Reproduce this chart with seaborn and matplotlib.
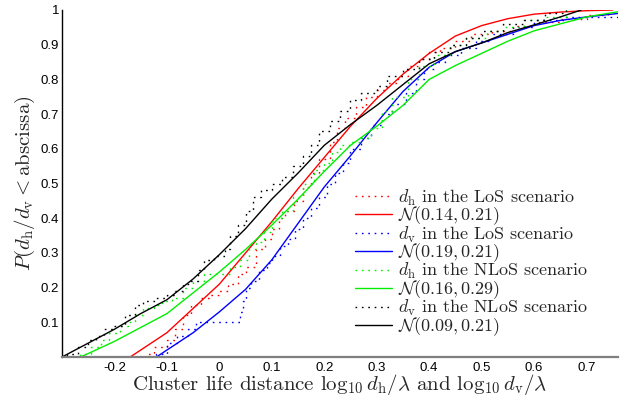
import numpy as np
import matplotlib
matplotlib.use("Agg")
import matplotlib.pyplot as plt
import seaborn as sns

dh_los_x = [-0.3, -0.14, -0.125, -0.10, -0.085, -0.07, -0.055, -0.035, -0.02, 0.0, 0.017, 0.035, 0.05,
            0.07, 0.087, 0.10, 0.113, 0.125, 0.142, 0.16, 0.175, 0.19, 0.21, 0.225, 0.24, 0.26, 0.28,
            0.30, 0.32, 0.34, 0.36, 0.38, 0.40, 0.42, 0.45, 0.48, 0.52, 0.56, 0.60, 0.65, 0.70, 0.74]
dh_los_y = [0.0, 0.01, 0.03, 0.05, 0.08, 0.12, 0.15, 0.17, 0.18, 0.19, 0.21, 0.24, 0.26,
            0.31, 0.34, 0.37, 0.40, 0.42, 0.45, 0.49, 0.53, 0.57, 0.62, 0.66, 0.69, 0.72, 0.75,
            0.77, 0.79, 0.81, 0.84, 0.86, 0.88, 0.89, 0.91, 0.93, 0.94, 0.955, 0.965, 0.975, 0.985, 1.0]

dv_los_x = [-0.3, -0.12, -0.10, -0.08, -0.06, -0.045, 0.04, 0.045, 0.05, 0.06, 0.075, 0.09, 0.10, 0.115,
            0.13, 0.145, 0.16, 0.175, 0.19, 0.205, 0.22, 0.235, 0.25, 0.27, 0.29, 0.31, 0.33, 0.355,
            0.375, 0.39, 0.41, 0.43, 0.46, 0.49, 0.52, 0.56, 0.60, 0.66, 0.76]
dv_los_y = [0.0, 0.01, 0.04, 0.06, 0.08, 0.10, 0.13, 0.16, 0.20, 0.22, 0.25, 0.27, 0.29, 0.32,
            0.34, 0.37, 0.40, 0.43, 0.46, 0.50, 0.53, 0.56, 0.60, 0.63, 0.67, 0.70, 0.73, 0.76,
            0.80, 0.83, 0.85, 0.87, 0.89, 0.91, 0.93, 0.95, 0.97, 0.98, 0.985]

dh_nlos_x = [-0.3, -0.265, -0.245, -0.225, -0.21, -0.19, -0.175, -0.16, -0.145, -0.125, -0.11, -0.09,
             -0.07, -0.05, -0.03, 0.02, 0.04, 0.056, 0.07, 0.085, 0.10, 0.12, 0.14, 0.16, 0.18, 0.20,
             0.215, 0.23, 0.25, 0.27, 0.29, 0.31, 0.33, 0.36, 0.38, 0.41, 0.44, 0.47, 0.51, 0.54,
             0.58, 0.62, 0.66]
dh_nlos_y = [0.0, 0.01, 0.03, 0.05, 0.07, 0.09, 0.10, 0.12, 0.14, 0.15, 0.16, 0.17,
             0.20, 0.22, 0.24, 0.26, 0.28, 0.31, 0.33, 0.36, 0.40, 0.42, 0.46, 0.50, 0.54, 0.56,
             0.59, 0.61, 0.62, 0.63, 0.66, 0.71, 0.75, 0.80, 0.84, 0.87, 0.90, 0.92, 0.94, 0.95,
             0.97, 0.98, 1.0]

dv_nlos_x = [-0.3, -0.29, -0.27, -0.25, -0.235, -0.22, -0.20, -0.18, -0.16, -0.145, -0.12, -0.10,
             -0.085, -0.07, -0.055, -0.04, -0.03, -0.01, 0.01, 0.02, 0.035, 0.05, 0.065, 0.08, 0.10,
             0.12, 0.14, 0.16, 0.175, 0.19, 0.21, 0.23, 0.25, 0.27, 0.30, 0.32, 0.35, 0.38, 0.41,
             0.44, 0.47, 0.50, 0.54, 0.58, 0.62, 0.66]
dv_nlos_y = [0.0, 0.01, 0.03, 0.05, 0.06, 0.08, 0.09, 0.12, 0.15, 0.16, 0.17, 0.18,
             0.19, 0.21, 0.22, 0.25, 0.28, 0.29, 0.31, 0.35, 0.38, 0.42, 0.46, 0.48, 0.50,
             0.52, 0.55, 0.58, 0.61, 0.65, 0.68, 0.71, 0.74, 0.76, 0.78, 0.81, 0.83, 0.86, 0.88,
             0.90, 0.92, 0.94, 0.96, 0.97, 0.99, 1.0]

# fitted normal CDFs
fit_red_x = [-0.17, -0.15, -0.1, -0.05, 0, 0.05, 0.1, 0.15, 0.2, 0.25, 0.3, 0.35, 0.4, 0.45, 0.5,
             0.55, 0.6, 0.65, 0.7, 0.75]
fit_red_y = [0.0, 0.02, 0.07, 0.14, 0.21, 0.30, 0.39, 0.485, 0.575, 0.665, 0.745, 0.815, 0.875,
             0.925, 0.955, 0.975, 0.988, 0.994, 0.998, 1.0]

fit_blue_x = [-0.12, -0.1, -0.05, 0, 0.05, 0.1, 0.15, 0.2, 0.25, 0.3, 0.35, 0.4, 0.45, 0.5, 0.55,
              0.6, 0.65, 0.7, 0.76]
fit_blue_y = [0.0, 0.02, 0.07, 0.13, 0.195, 0.28, 0.385, 0.49, 0.58, 0.675, 0.765, 0.835, 0.88,
              0.905, 0.93, 0.955, 0.97, 0.98, 0.99]

fit_green_x = [-0.265, -0.25, -0.2, -0.15, -0.1, -0.05, 0, 0.05, 0.1, 0.15, 0.2, 0.25, 0.3, 0.35,
               0.4, 0.45, 0.5, 0.55, 0.6, 0.65, 0.7, 0.76]
fit_green_y = [0.0, 0.01, 0.045, 0.085, 0.125, 0.185, 0.245, 0.31, 0.38, 0.455, 0.535, 0.61,
               0.665, 0.725, 0.8, 0.84, 0.875, 0.91, 0.94, 0.96, 0.98, 0.995]

fit_black_x = [-0.3, -0.25, -0.2, -0.15, -0.1, -0.05, 0, 0.05, 0.1, 0.15, 0.2, 0.25, 0.3, 0.35,
               0.4, 0.45, 0.5, 0.55, 0.6, 0.65, 0.69]
fit_black_y = [0.0, 0.04, 0.08, 0.125, 0.165, 0.225, 0.295, 0.37, 0.455, 0.53, 0.61, 0.67, 0.725,
               0.785, 0.845, 0.88, 0.905, 0.935, 0.957, 0.98, 1.0]

labels = [r"$d_\mathrm{h}$ in the LoS scenario", r"$\mathcal{N}(0.14, 0.21)$",
          r"$d_\mathrm{v}$ in the LoS scenario", r"$\mathcal{N}(0.19, 0.21)$",
          r"$d_\mathrm{h}$ in the NLoS scenario", r"$\mathcal{N}(0.16, 0.29)$",
          r"$d_\mathrm{v}$ in the NLoS scenario", r"$\mathcal{N}(0.09, 0.21)$"]

xticks = [-0.2, -0.1, 0, 0.1, 0.2, 0.3, 0.4, 0.5, 0.6, 0.7]
xtick_labels = ["-0.2", "-0.1", "0", "0.1", "0.2", "0.3", "0.4", "0.5", "0.6", "0.7"]
yticks = [0.1, 0.2, 0.3, 0.4, 0.5, 0.6, 0.7, 0.8, 0.9, 1.0]
ytick_labels = ["0.1", "0.2", "0.3", "0.4", "0.5", "0.6", "0.7", "0.8", "0.9", "1"]

sns.set_style("white")
plt.rcParams["mathtext.fontset"] = "cm"
plt.rcParams["font.family"] = ["Liberation Sans", "DejaVu Sans"]

fig = plt.figure(figsize=(6.3, 3.99), dpi=100)
ax = fig.add_axes([62 / 630, 42 / 399, 556 / 630, 347 / 399])

dotted = (0, (1.2, 3.4))
series = [
    (dh_los_x, dh_los_y, fit_red_x, fit_red_y, "#ff0000"),
    (dv_los_x, dv_los_y, fit_blue_x, fit_blue_y, "#0000ff"),
    (dh_nlos_x, dh_nlos_y, fit_green_x, fit_green_y, "#00ee00"),
    (dv_nlos_x, dv_nlos_y, fit_black_x, fit_black_y, "#000000"),
]
for i, (ex, ey, fx, fy, col) in enumerate(series):
    sns.lineplot(x=ex, y=ey, ax=ax, color=col, linewidth=1.0, linestyle=dotted,
                 drawstyle="steps-post", estimator=None, sort=False, label=labels[2 * i])
    sns.lineplot(x=fx, y=fy, ax=ax, color=col, linewidth=1.0, estimator=None,
                 sort=False, label=labels[2 * i + 1])

ax.set_xlim(-0.3, 0.76)
ax.set_ylim(0, 1)
ax.set_xticks(xticks, xtick_labels)
ax.set_yticks(yticks, ytick_labels)
ax.tick_params(direction="in", length=4, width=0.8, labelsize=9.5, colors="black")
ax.tick_params(axis="x", pad=3.5)
ax.tick_params(axis="y", pad=2)
for s in ["top", "right"]:
    ax.spines[s].set_visible(False)
ax.spines["left"].set_color("black")
ax.spines["left"].set_linewidth(1.0)
ax.spines["bottom"].set_color("#7f7f7f")
ax.spines["bottom"].set_linewidth(1.6)

ax.set_xlabel(r"Cluster life distance $\log_{10} d_\mathrm{h}/\lambda$ and $\log_{10} d_\mathrm{v}/\lambda$",
              fontsize=15, family="cmr10", labelpad=-1.0)
ax.set_ylabel(r"$P(d_\mathrm{h}/d_\mathrm{v} < \mathrm{abscissa})$", fontsize=15, family="cmr10",
              labelpad=3)

leg = ax.legend(loc="upper left", bbox_to_anchor=(0.527, 0.488), frameon=False, borderpad=0,
                borderaxespad=0, handlelength=2.05, handletextpad=0.35, labelspacing=-0.165,
                prop={"family": "cmr10", "size": 13})

fig.savefig("out.png", dpi=100)
